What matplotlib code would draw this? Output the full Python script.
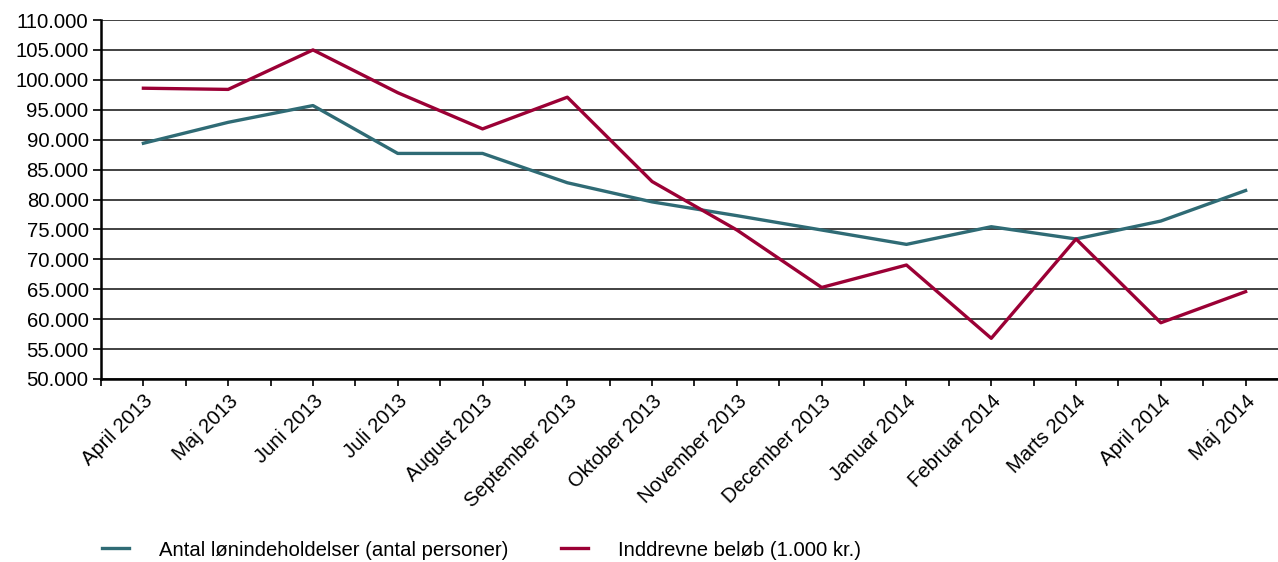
import matplotlib
matplotlib.use("Agg")
import matplotlib.pyplot as plt
from matplotlib.ticker import FuncFormatter, MultipleLocator

plt.rcParams['font.family'] = ['Liberation Sans', 'DejaVu Sans']

months = ["April 2013", "Maj 2013", "Juni 2013", "Juli 2013", "August 2013",
          "September 2013", "Oktober 2013", "November 2013", "December 2013",
          "Januar 2014", "Februar 2014", "Marts 2014", "April 2014", "Maj 2014"]
antal = [89400, 92900, 95700, 87700, 87700, 82800, 79600, 77300, 74900,
         72500, 75450, 73400, 76400, 81500]
inddrevne = [98600, 98400, 105000, 97850, 91800, 97100, 83000, 74900, 65300,
             69050, 56800, 73400, 59400, 64600]
series_names = ["Antal lønindeholdelser (antal personer)", "Inddrevne beløb (1.000 kr.)"]
colors = ["#2F6B75", "#9B0035"]

FS = 14.6
W, H = 1278, 562
fig = plt.figure(figsize=(W / 100, H / 100), dpi=100)
left = 101 / W
bottom = 1 - 379 / H
top = 1 - 20 / H
right = 1288 / W
ax = fig.add_axes([left, bottom, right - left, top - bottom])

x = list(range(len(months)))
ax.plot(x, antal, color=colors[0], lw=2.4, label=series_names[0], zorder=3)
ax.plot(x, inddrevne, color=colors[1], lw=2.4, label=series_names[1], zorder=3)

ax.set_xlim(-0.5, len(months) - 0.5)
ax.set_ylim(50000, 110000)
ax.yaxis.set_major_locator(MultipleLocator(5000))
ax.yaxis.set_major_formatter(FuncFormatter(lambda v, p: f"{int(v):,}".replace(",", ".")))
ax.grid(axis='y', color='#333333', lw=1.3, zorder=1)
ax.set_axisbelow(True)

ax.set_xticks(x)
ax.set_xticklabels(months, rotation=45, ha='right', va='top', rotation_mode='anchor')
ax.set_xticks([i - 0.5 for i in range(len(months) + 1)], minor=True)
ax.tick_params(axis='x', which='major', length=5, width=1.2, labelsize=FS, pad=4, color='black')
ax.tick_params(axis='x', which='minor', length=5, width=1.2, color='black')
ax.tick_params(axis='y', length=6, width=1.2, labelsize=FS, pad=3, color='black')

for s in ['top', 'right']:
    ax.spines[s].set_visible(False)
for s in ['left', 'bottom']:
    ax.spines[s].set_linewidth(1.8)
    ax.spines[s].set_color('black')

fig.legend(loc='center left', bbox_to_anchor=(102 / W, 1 - 550 / H), ncol=2,
           frameon=False, fontsize=FS, handlelength=1.35, handletextpad=1.45,
           columnspacing=2.6, borderpad=0, borderaxespad=0)

fig.savefig("out.png", dpi=100)
